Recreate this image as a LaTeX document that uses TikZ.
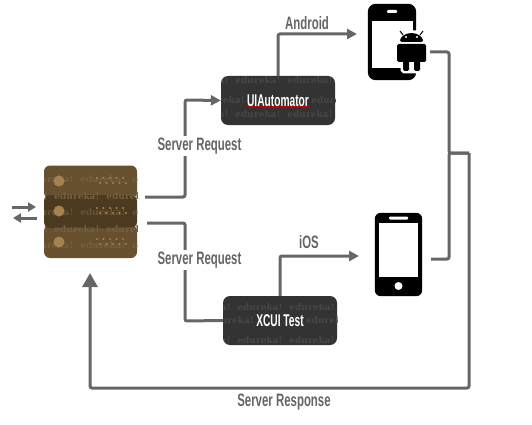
\documentclass[tikz,border=0pt]{standalone}
\usepackage{fontspec}
\usetikzlibrary{arrows.meta, decorations.pathmorphing, positioning}
\newfontfamily\condfont[FakeStretch=0.635]{Liberation Sans Bold}
\newfontfamily\boxfont[FakeStretch=0.6]{Liberation Sans Bold}
\newfontfamily\wmfont{DejaVu Serif Bold}
\definecolor{flowgray}{HTML}{666666}
\definecolor{boxgray}{HTML}{333333}
\definecolor{boxstamp}{HTML}{474747}
\definecolor{rackbrown}{HTML}{66502F}
\definecolor{rackdark}{HTML}{4C3A20}
\definecolor{rackstamp}{HTML}{74603F}
\definecolor{rackdot}{HTML}{A5824F}
\tikzset{
    flow/.style={draw=flowgray, line width=3pt, rounded corners=2pt},
    flowtip/.style={flow, -{Triangle[length=10pt, width=10pt]}},
    tag/.style={font=\condfont\fontsize{18}{18}\selectfont, text=flowgray, fill=white, inner sep=2pt},
    boxtag/.style={font=\boxfont\fontsize{17}{17}\selectfont, text=white, inner sep=0pt},
    toolbox/.style={fill=boxgray, rounded corners=7pt, minimum width=114pt, minimum height=49pt, inner sep=0pt},
    rack/.style={rounded corners=6pt, minimum width=93pt, minimum height=33pt, inner sep=0pt},
    wmark/.style={font=\wmfont\fontsize{9}{9}\selectfont, inner sep=0pt},
    robot/.style={fill=black, rounded corners=1.5pt},
    halo/.style={draw=white, line width=5pt, fill=white, rounded corners=1.5pt},
}
% one row of the faint stamp: left, y, colour
\newcommand{\stamprow}[3]{
    \foreach \col in {0,...,3} {
        \node[wmark, text=#3] at ({#1+\col*52}, #2) {edureka!};
    }
}
\begin{document}
\begin{tikzpicture}[x=1pt, y=-1pt]
\useasboundingbox (0,0) rectangle (532,425);

% server
\node[rack, fill=rackbrown] (rack1) at (90.5,182) {};
\node[rack, fill=rackbrown] (rack3) at (90.5,241.5) {};
\node[rack, fill=rackdark] (rack2) at (90.5,211.5) {};
\begin{scope}
    \clip[rounded corners=6pt] (44,165) rectangle (137,258);
    \stamprow{51}{179}{rackstamp}
    \stamprow{25}{196}{rackstamp}
    \stamprow{51}{212}{rackstamp!70!rackdark}
    \stamprow{25}{229}{rackstamp}
    \stamprow{51}{245}{rackstamp}
\end{scope}
\foreach \y in {181,211,242} {
    \fill[rackdot] (59,\y) circle (5.5pt);
    \foreach \i in {0,...,4} {
        \fill[rackdot] ({97+\i*6.5},{\y-3}) circle (1.1pt);
        \fill[rackdot] ({100+\i*6.5},{\y+2}) circle (1.1pt);
    }
}

% tool boxes
\node[toolbox] (ui) at (278,100.5) {};
\node[toolbox] (xc) at (280,320.5) {};
\node[boxtag] (uitag) at (ui.center) {UIAutomator};
\node[boxtag] (xctag) at (xc.center) {XCUI Test};
\begin{scope}
    \clip[rounded corners=7pt] (221,76) rectangle (335,125);
    \stamprow{206}{80}{boxstamp}
    \stamprow{206}{114}{boxstamp}
    \node[wmark, text=boxstamp, left=2pt of uitag] {edureka!};
    \node[wmark, text=boxstamp, right=2pt of uitag] {edureka!};
\end{scope}
\begin{scope}
    \clip[rounded corners=7pt] (223,296) rectangle (337,345);
    \stamprow{208}{307}{boxstamp}
    \stamprow{208}{340}{boxstamp}
    \node[wmark, text=boxstamp, left=2pt of xctag] {edureka!};
    \node[wmark, text=boxstamp, right=2pt of xctag] {edureka!};
\end{scope}
\draw[red!80!black, line width=0.8pt, decorate, decoration={snake, amplitude=0.6pt, segment length=3pt}]
    (uitag.south west) -- (uitag.south east);

% android phone
\node[minimum width=48pt, minimum height=76pt, inner sep=0pt] (droid) at (392,42) {};
\fill[black, rounded corners=8pt] (droid.north west) rectangle (droid.south east);
\fill[white] (372,21) rectangle (413,68);
\fill[white, rounded corners=1pt] (387,10) rectangle (397,13);
\path[halo] (400,33) rectangle (423,42);
\path[halo] (397,44) rectangle (426,62);
\path[halo] (403,62) rectangle (420,71);
\fill[robot] (400,42) arc (180:0:11.5pt and 9pt) -- cycle;
\draw[black, line width=1pt] (403,35) -- (400,31) (420,35) -- (423,31);
\fill[white] (406,37) circle (1.2pt) (417,37) circle (1.2pt);
\fill[robot] (397,44) rectangle (426,62);
\fill[robot] (403,60) rectangle (409,71);
\fill[robot] (414,60) rectangle (420,71);

% ios phone
\node[minimum width=47pt, minimum height=83pt, inner sep=0pt] (iphone) at (398.5,254.5) {};
\fill[black, rounded corners=6pt] (iphone.north west) rectangle (iphone.south east);
\fill[white] (379,223) rectangle (418,277);
\fill[white, rounded corners=1pt] (389,216.5) rectangle (408,219.5);
\fill[white] (398.5,286) circle (4pt);

% small arrows
\coordinate (inA) at (12,207);
\coordinate (inB) at (36,207);
\coordinate (outA) at (37,218);
\coordinate (outB) at (13,218);
\draw[flowtip, -{Triangle[length=8pt, width=9pt]}] (inA) -- (inB);
\draw[flowtip, -{Triangle[length=8pt, width=9pt]}] (outA) -- (outB);

% requests
\coordinate (reqA) at (145,197);
\coordinate (reqB) at (147,223);
\draw[flowtip] (reqA) -| (185,100) -- (ui.west);
\draw[flow] (reqB) -| (185,321) -- (xc.west);
\node[tag] (req1) at (199.5,146) {Server Request};
\node[tag] (req2) at (199.5,260) {Server Request};

% platforms
\coordinate (droidin) at (357,34);
\coordinate (iosin) at (359,256);
\draw[flowtip] (ui.north) |- (droidin);
\draw[flowtip] (xc.north) |- (iosin);
\node[tag] (android) at (307,23) {Android};
\node[tag] (ios) at (309,242) {iOS};

% response
\coordinate (droidout) at (430,52);
\coordinate (iosout) at (431,259);
\coordinate (joinA) at (449,153);
\coordinate (joinB) at (469,153);
\coordinate (srvback) at (90,273);
\draw[flow] (droidout) -| (joinA) -- (joinB);
\draw[flow] (iosout) -| (joinA) -- (joinB);
\draw[flow, -{Triangle[length=14pt, width=15pt]}] (joinB) |- (90,388) -- (srvback);
\node[tag] (resp) at (284,402) {Server Response};
\end{tikzpicture}
\end{document}
